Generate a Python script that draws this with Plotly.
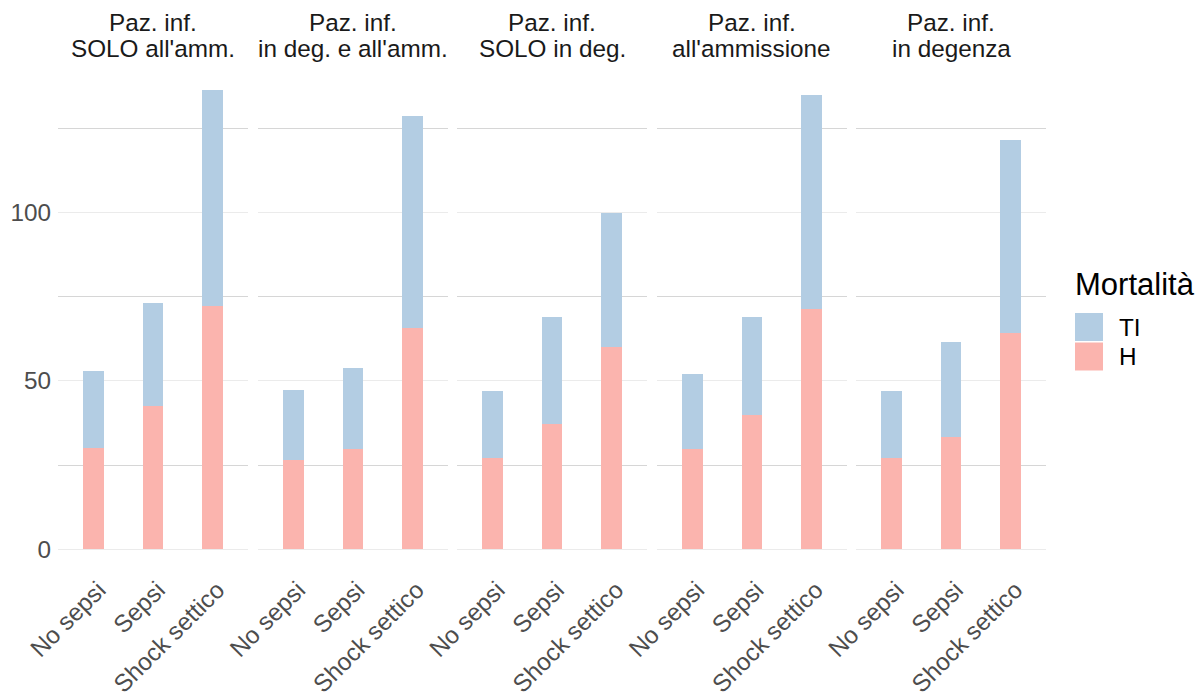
import plotly.graph_objects as go

# ---- data ----
facet_line1 = ["Paz. inf.", "Paz. inf.", "Paz. inf.", "Paz. inf.", "Paz. inf."]
facet_line2 = ["SOLO all'amm.", "in deg. e all'amm.", "SOLO in deg.",
               "all'ammissione", "in degenza"]
categories = ["No sepsi", "Sepsi", "Shock settico"]
H_values = [
    [30.1, 42.6, 72.3],
    [26.5, 29.7, 65.8],
    [27.2, 37.2, 60.0],
    [29.7, 39.8, 71.3],
    [27.1, 33.2, 64.2],
]
TI_values = [
    [22.8, 30.5, 64.3],
    [20.7, 24.1, 63.0],
    [19.7, 31.8, 40.0],
    [22.3, 29.2, 63.7],
    [19.8, 28.3, 57.4],
]
y_ticks = [0, 50, 100]
legend_title = "Mortalità"

# ---- style ----
COL = {"H": "#FBB4AE", "TI": "#B3CDE3"}
FONT = "Liberation Sans, Arial, sans-serif"
OFF = 8                      # page body margin
W, HGT = 1204 - OFF, 696 - OFF
PLOT_TOP, PLOT_BOT = 67, 572  # in window pixels
MT = PLOT_TOP - OFF
MB = HGT - (PLOT_BOT - OFF)
plot_h = HGT - MT - MB
panel_w = 190
panel_step = 199.5
panel_x0 = 58
TXT = 24.3

def px2x(p):
    return (p - OFF) / W

def px2y(p):
    return (PLOT_BOT - p) / plot_h

fig = go.Figure()
layout_axes = {}
annotations = []
for i in range(len(facet_line1)):
    ax = "x" if i == 0 else f"x{i+1}"
    for name, vals in (("H", H_values[i]), ("TI", TI_values[i])):
        fig.add_trace(go.Bar(
            x=categories, y=vals, name=name, xaxis=ax, yaxis="y",
            marker=dict(color=COL[name], line=dict(width=0)),
            width=0.35, showlegend=False,
        ))
    x0 = panel_x0 + i * panel_step
    dom = [px2x(x0), px2x(x0 + panel_w)]
    key = "xaxis" if i == 0 else f"xaxis{i+1}"
    layout_axes[key] = dict(
        domain=dom, anchor="y", type="category",
        categoryorder="array", categoryarray=categories,
        range=[-0.6, 2.6], tickangle=-45, showgrid=False, zeroline=False,
        showline=False, ticks="", ticklabelshift=5, ticklabelstandoff=-2,
        tickfont=dict(family=FONT, size=TXT, color="#4D4D4D"),
    )
    for line, ypx in ((facet_line1[i], 23), (facet_line2[i], 49)):
        annotations.append(dict(
            text=line, x=(dom[0] + dom[1]) / 2, y=px2y(ypx), xref="paper", yref="paper",
            xanchor="center", yanchor="middle", showarrow=False,
            font=dict(family=FONT, size=TXT, color="#1A1A1A"),
        ))

# legend drawn manually to match key sizes
shapes = []
annotations.append(dict(
    text=legend_title, x=px2x(1073), y=px2y(284), xref="paper", yref="paper",
    xanchor="left", yanchor="middle", showarrow=False,
    font=dict(family=FONT, size=31, color="#000000"),
))
legend_items = [("TI", 313, 341), ("H", 342.5, 370.5)]
for name, ytop, ybot in legend_items:
    shapes.append(dict(
        type="rect", xref="paper", yref="paper",
        x0=px2x(1075), x1=px2x(1103), y0=px2y(ybot), y1=px2y(ytop),
        fillcolor=COL[name], line=dict(width=0),
    ))
    annotations.append(dict(
        text=name, x=px2x(1117), y=px2y((ytop + ybot) / 2), xref="paper", yref="paper",
        xanchor="left", yanchor="middle", showarrow=False,
        font=dict(family=FONT, size=TXT, color="#000000"),
    ))

fig.update_layout(
    width=W, height=HGT,
    margin=dict(l=0, r=0, t=MT, b=MB, autoexpand=False),
    paper_bgcolor="white", plot_bgcolor="white",
    barmode="stack", bargap=0,
    showlegend=False,
    yaxis=dict(
        domain=[0, 1], anchor="x", range=[-6.83, 143.4],
        tickvals=y_ticks, showgrid=True, gridcolor="#EBEBEB", gridwidth=1.4,
        zeroline=False, showline=False, ticks="", automargin=False,
        tickfont=dict(family=FONT, size=TXT, color="#4D4D4D"),
        ticklabelstandoff=6,
        minor=dict(tickvals=[25, 75, 125], showgrid=True,
                   gridcolor="#D6D6D6", gridwidth=1.2, ticks=""),
    ),
    annotations=annotations,
    shapes=shapes,
    **layout_axes,
)

fig.write_html("out.html")
